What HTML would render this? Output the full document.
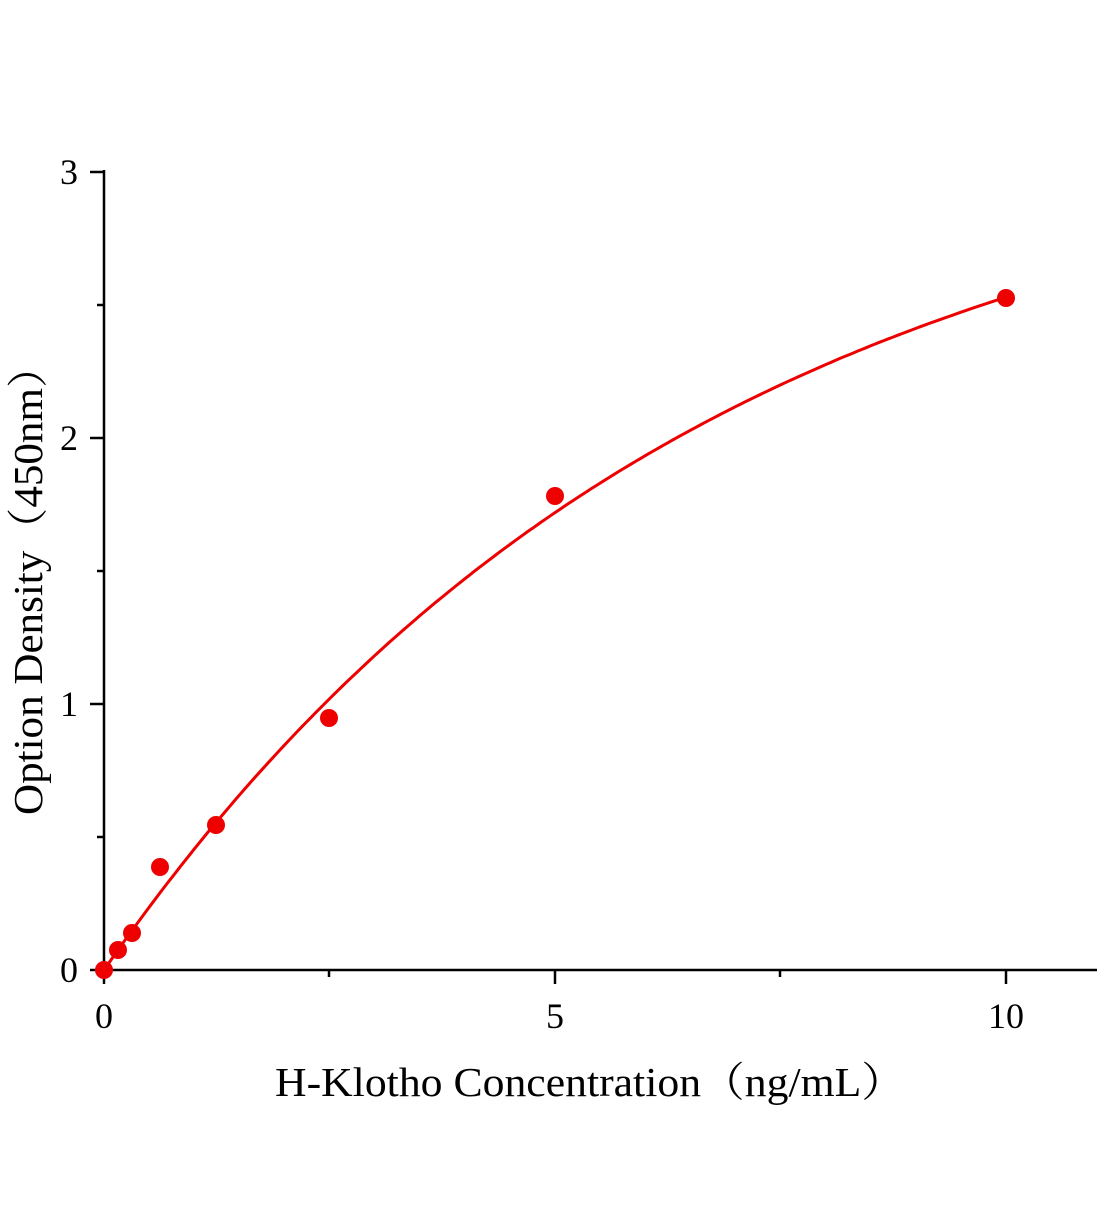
<!DOCTYPE html>
<html><head><meta charset="utf-8"><style>
html,body{margin:0;padding:0;background:#fff;}
svg text{font-family:"Liberation Serif","Noto Serif CJK SC",serif;fill:#000;}
</style></head><body>
<svg id="s" width="1104" height="1200" viewBox="0 0 1104 1200" xmlns="http://www.w3.org/2000/svg">
<g stroke="#000" stroke-width="2.5" fill="none">
<line x1="104" y1="170" x2="104" y2="971"/>
<line x1="103" y1="970" x2="1097" y2="970"/>
<line x1="90" y1="172" x2="104" y2="172"/>
<line x1="90" y1="438" x2="104" y2="438"/>
<line x1="90" y1="704" x2="104" y2="704"/>
<line x1="90" y1="970" x2="104" y2="970"/>
<line x1="97" y1="305" x2="104" y2="305"/>
<line x1="97" y1="571" x2="104" y2="571"/>
<line x1="97" y1="837" x2="104" y2="837"/>
<line x1="104" y1="970" x2="104" y2="984"/>
<line x1="555" y1="970" x2="555" y2="984"/>
<line x1="1006" y1="970" x2="1006" y2="984"/>
<line x1="329" y1="970" x2="329" y2="977"/>
<line x1="780" y1="970" x2="780" y2="977"/>
</g>
<g font-size="36" text-anchor="end">
<text x="78" y="184">3</text>
<text x="78" y="450">2</text>
<text x="78" y="716">1</text>
<text x="78" y="982">0</text>
</g>
<g font-size="36" text-anchor="middle">
<text x="104" y="1028">0</text>
<text x="555" y="1028">5</text>
<text x="1006" y="1028">10</text>
</g>
<text x="590" y="1096" font-size="41" text-anchor="middle" textLength="630" lengthAdjust="spacingAndGlyphs">H-Klotho Concentration（ng/mL）</text>
<text transform="translate(42,580) rotate(-90)" font-size="41" text-anchor="middle" textLength="470" lengthAdjust="spacingAndGlyphs">Option Density（450nm）</text>
<path id="curve" d="" stroke="#ee0000" stroke-width="3" fill="none"/>
<g fill="#ee0000">
<circle cx="104" cy="970" r="9"/>
<circle cx="118" cy="950" r="9"/>
<circle cx="132" cy="933" r="9"/>
<circle cx="160" cy="867" r="9"/>
<circle cx="216" cy="825" r="9"/>
<circle cx="329" cy="718" r="9"/>
<circle cx="555" cy="496" r="9"/>
<circle cx="1006" cy="298" r="9"/>
</g>
</svg>
<script>
var d="";
for(var i=0;i<=200;i++){var x=i*0.05;var y=3.25*(1-Math.exp(-x/6.64));
var px=104+90.2*x, py=970-266*y; d+=(i?"L":"M")+px.toFixed(1)+" "+py.toFixed(1);}
document.getElementById("curve").setAttribute("d",d);
</script>
</body></html>
